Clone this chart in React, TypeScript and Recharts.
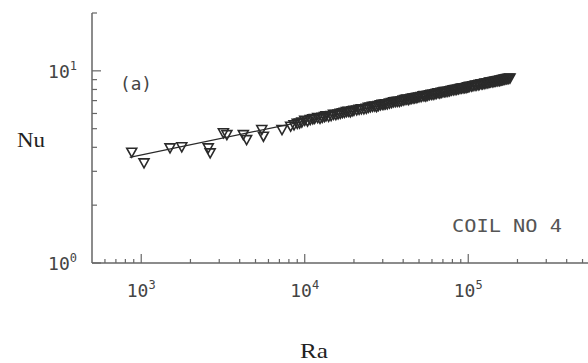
import React from 'react'
import { ScatterChart, Scatter, XAxis, YAxis } from 'recharts'

/* Nu–Ra correlation, coil no 4, log–log with fitted line */

// run A: Rayleigh / Nusselt numbers
const raValuesA = [
  875, 1040, 1500, 1770, 2570, 2640, 3180, 3340, 4210, 4410, 5460, 5590, 7260,
  8200, 9000, 9600, 10000, 10800, 11500, 12000, 12800, 13500, 14000, 15000, 16000,
  17000, 18000, 19000, 20000, 21500, 23000, 24500, 26000, 27500, 29000, 30500, 32000,
  34000, 36000, 38000, 40000, 42000, 44000, 46000, 48000, 50000, 53000, 55000, 58000,
  61000, 64000, 67000, 70000, 73000, 77000, 81000, 85000, 89000, 93000, 97000, 100000,
  105000, 110000, 115000, 120000, 125000, 130000, 135000, 140000, 145000, 150000,
  155000, 160000, 165000, 170000, 175000, 180000,
]
const nuValuesA = [
  3.75, 3.3, 3.95, 4.0, 3.95, 3.72, 4.73, 4.63, 4.63, 4.36, 4.92, 4.54, 4.92,
  5.12, 5.3, 5.38, 5.5, 5.55, 5.62, 5.68, 5.7, 5.8, 5.76, 5.9, 5.93,
  6.02, 6.1, 6.08, 6.2, 6.27, 6.3, 6.42, 6.5, 6.48, 6.62, 6.65, 6.7,
  6.8, 6.88, 6.9, 7.0, 7.08, 7.1, 7.18, 7.22, 7.27, 7.36, 7.35, 7.47,
  7.5, 7.6, 7.62, 7.72, 7.75, 7.82, 7.92, 7.97, 8.05, 8.1, 8.14, 8.22,
  8.27, 8.36, 8.4, 8.5, 8.53, 8.6, 8.68, 8.7, 8.78, 8.82,
  8.85, 8.92, 8.97, 9.02, 9.05, 9.12,
]

// run B: repeat series over the dense range
const raValuesB = [
  8600, 9300, 10400, 11200, 12400, 13200, 14500, 15500, 16500, 17500, 18500, 19500,
  20800, 22200, 23800, 25200, 26800, 28200, 29800, 31200, 33000, 35000, 37000, 39000,
  41000, 43000, 45000, 47000, 49000, 51500, 54000, 56500, 59500, 62500, 65500, 68500,
  71500, 75000, 79000, 83000, 87000, 91000, 95000, 99000, 102000, 107000, 112000,
  117000, 122000, 127000, 132000, 137000, 142000, 147000, 152000, 157000, 162000,
  167000, 172000, 177000,
]
const nuValuesB = [
  5.2, 5.32, 5.45, 5.6, 5.62, 5.75, 5.82, 5.88, 5.98, 6.05, 6.12, 6.15,
  6.22, 6.3, 6.35, 6.45, 6.52, 6.55, 6.65, 6.7, 6.75, 6.85, 6.9, 6.95,
  7.05, 7.05, 7.15, 7.2, 7.25, 7.3, 7.4, 7.42, 7.5, 7.55, 7.65, 7.68,
  7.75, 7.78, 7.88, 7.95, 8.0, 8.08, 8.12, 8.2, 8.25, 8.32, 8.38,
  8.45, 8.5, 8.58, 8.62, 8.7, 8.75, 8.8, 8.85, 8.9, 8.95,
  9.0, 9.05, 9.1,
]

// least-squares fit end points
const fitRa = [850, 180000]
const fitNu = [3.55, 9.1]

// log axis ticks (decades get a label, the rest are minor)
const xTicks = [
  600, 700, 800, 900,
  1000, 2000, 3000, 4000, 5000, 6000, 7000, 8000, 9000,
  10000, 20000, 30000, 40000, 50000, 60000, 70000, 80000, 90000,
  100000, 200000, 300000, 400000, 500000,
]
const yTicks = [1, 2, 3, 4, 5, 6, 7, 8, 9, 10, 20]

const runA = raValuesA.map((ra, i) => ({ ra, nu: nuValuesA[i] }))
const runB = raValuesB.map((ra, i) => ({ ra, nu: nuValuesB[i] }))
const fitLine = fitRa.map((ra, i) => ({ ra, nu: fitNu[i] }))

const INK = '#2a2a2a'
const AXIS = '#666'
const MONO = '"DejaVu Sans Mono", monospace'
const SERIF = '"Liberation Serif", "Times New Roman", serif'

function decadeOf(v: number) {
  const e = Math.round(Math.log10(v))
  return Math.abs(Math.log10(v) - e) < 1e-6 ? e : null
}

function XTick({ x, y, payload }: any) {
  const e = decadeOf(payload.value)
  return (
    <g>
      <line x1={x} x2={x} y1={y} y2={y - (e !== null ? 9 : 4)} stroke={AXIS} strokeWidth={1.2} />
      {e !== null && (
        <text x={x} y={y + 34} textAnchor="middle" fontFamily={MONO} fontSize={18} fill="#444">
          10
          <tspan dy={-8} fontSize={12}>{e}</tspan>
        </text>
      )}
    </g>
  )
}

function YTick({ x, y, payload }: any) {
  const e = decadeOf(payload.value)
  return (
    <g>
      <line x1={x} x2={x + (e !== null ? 9 : 5)} y1={y} y2={y} stroke={AXIS} strokeWidth={1.2} />
      {e !== null && (
        <text x={x - 15} y={y + 7} textAnchor="end" fontFamily={MONO} fontSize={18} fill="#444">
          10
          <tspan dy={-8} fontSize={12}>{e}</tspan>
        </text>
      )}
    </g>
  )
}

// open downward triangle
function Triangle({ cx, cy }: any) {
  if (cx == null || cy == null) return <g />
  return (
    <path
      d={`M${cx - 5},${cy - 4.5}L${cx + 5},${cy - 4.5}L${cx},${cy + 4.5}Z`}
      fill="none"
      stroke={INK}
      strokeWidth={1.6}
    />
  )
}

const noMarker = () => <g />

export default function App() {
  return (
    <div style={{ position: 'absolute', left: 0, top: 0, width: 588, height: 363, background: '#fff' }}>
      <ScatterChart width={588} height={363} margin={{ top: 13, right: 0, bottom: 70, left: 32 }}>
        <XAxis
          dataKey="ra"
          type="number"
          scale="log"
          domain={[500, 540000]}
          allowDataOverflow
          ticks={xTicks}
          interval={0}
          height={30}
          tickSize={0}
          tickMargin={0}
          tickLine={false}
          axisLine={{ stroke: AXIS, strokeWidth: 1.5 }}
          tick={<XTick />}
        />
        <YAxis
          dataKey="nu"
          type="number"
          scale="log"
          domain={[1, 20]}
          allowDataOverflow
          ticks={yTicks}
          interval={0}
          width={60}
          tickSize={0}
          tickMargin={0}
          tickLine={false}
          axisLine={{ stroke: AXIS, strokeWidth: 1.5 }}
          tick={<YTick />}
        />
        <Scatter
          data={fitLine}
          line={{ stroke: INK, strokeWidth: 1.3 }}
          shape={noMarker}
          isAnimationActive={false}
        />
        <Scatter data={runA} shape={<Triangle />} isAnimationActive={false} />
        <Scatter data={runB} shape={<Triangle />} isAnimationActive={false} />
        <text x={120} y={90} fontFamily={MONO} fontSize={17} textLength={32} lengthAdjust="spacingAndGlyphs" fill="#444">(a)</text>
        <text x={452} y={232} fontFamily={MONO} fontSize={18} textLength={110} lengthAdjust="spacingAndGlyphs" fill="#555">COIL NO 4</text>
        <text x={17} y={147} fontFamily={SERIF} fontSize={21} textLength={28} lengthAdjust="spacingAndGlyphs" fill="#222">Nu</text>
        <text x={300} y={358} fontFamily={SERIF} fontSize={22} textLength={28} lengthAdjust="spacingAndGlyphs" fill="#222">Ra</text>
      </ScatterChart>
    </div>
  )
}
